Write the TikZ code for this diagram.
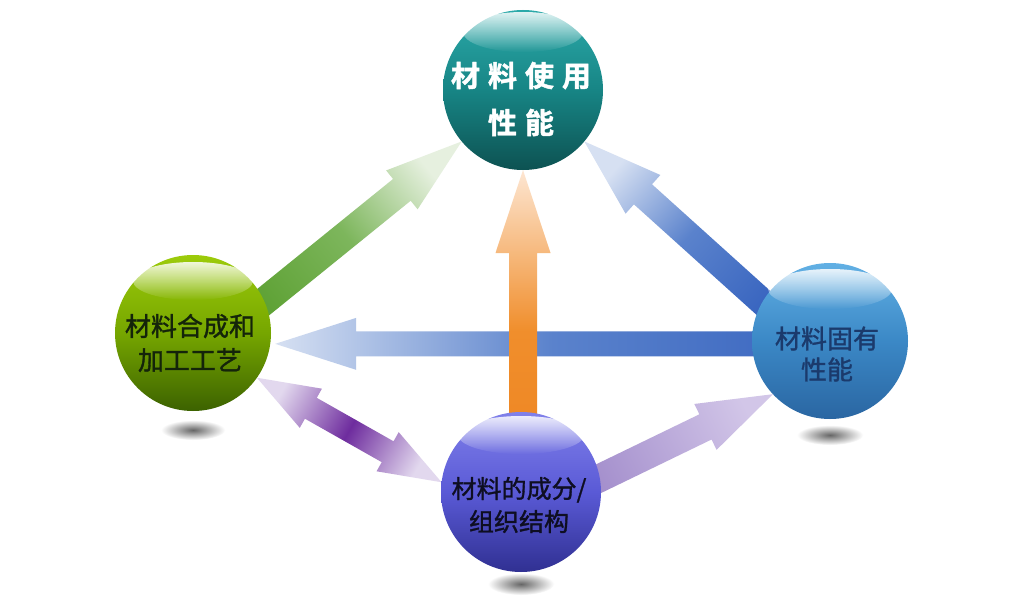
\documentclass[tikz,border=0pt]{standalone}
\usepackage{fontspec}
\newfontfamily\cjk{Noto Sans CJK SC}
\newfontfamily\cjkm[FakeBold=1.3]{Noto Sans CJK SC}
\newfontfamily\cjkh[FakeBold=1.5]{Noto Sans CJK SC Bold}
\usetikzlibrary{calc,fadings}
\definecolor{tealT}{HTML}{2BA9A9}
\definecolor{tealM}{HTML}{178585}
\definecolor{tealB}{HTML}{0D5252}
\definecolor{grnT}{HTML}{9CCB0A}
\definecolor{grnM}{HTML}{76A600}
\definecolor{grnB}{HTML}{3C6200}
\definecolor{bluT}{HTML}{62B0E4}
\definecolor{bluM}{HTML}{3B88C6}
\definecolor{bluB}{HTML}{2A66A2}
\definecolor{vioT}{HTML}{8080EA}
\definecolor{vioM}{HTML}{5A5AD6}
\definecolor{vioB}{HTML}{303092}
\definecolor{ltext}{HTML}{14240A}
\definecolor{rtext}{HTML}{1B3A6C}
\definecolor{btext}{HTML}{0E0E22}
\definecolor{agrnD}{HTML}{5FA236}
\definecolor{agrnM}{HTML}{7DB65C}
\definecolor{agrnL}{HTML}{E6F0DF}
\definecolor{abluD}{HTML}{3A66C0}
\definecolor{abluM}{HTML}{5A82CC}
\definecolor{abluL}{HTML}{D6E0F2}
\definecolor{aorD}{HTML}{EE8420}
\definecolor{aorM}{HTML}{F08E2C}
\definecolor{aorL}{HTML}{FDE6D2}
\definecolor{apurD}{HTML}{6E2C9E}
\definecolor{apurL}{HTML}{E2D8EE}
\definecolor{alavD}{HTML}{A08ACA}
\definecolor{alavL}{HTML}{D2C6E8}
\pgfdeclarelayer{bg}
\pgfsetlayers{bg,main}
% #1 base, #2 tip, #3 half shaft, #4 half head, #5 head length, #6 colours
\newcommand{\blockarr}[6]{%
  \coordinate (hb) at ($(#2)!#5!(#1)$);
  \pgfmathanglebetweenpoints{\pgfpointanchor{#1}{center}}{\pgfpointanchor{#2}{center}}%
  \pgfmathsetmacro\arrang{\pgfmathresult-90}%
  \path[#6, shading angle=\arrang] ($(#1)!#3!90:(#2)$) -- ($(hb)!#3!-90:(#1)$) -- ($(hb)!#4!-90:(#1)$) -- (#2) -- ($(hb)!#4!90:(#1)$) -- ($(hb)!#3!90:(#1)$) -- ($(#1)!#3!-90:(#2)$) -- cycle;
}
% double-headed: #1 tip a, #2 tip b, #3 half shaft, #4 half head, #5 head length, #6 colours
\newcommand{\dblockarr}[6]{%
  \coordinate (ha) at ($(#1)!#5!(#2)$);
  \coordinate (hb) at ($(#2)!#5!(#1)$);
  \pgfmathanglebetweenpoints{\pgfpointanchor{#1}{center}}{\pgfpointanchor{#2}{center}}%
  \pgfmathsetmacro\arrang{\pgfmathresult-90}%
  \path[#6, shading angle=\arrang] (#1) -- ($(ha)!#4!90:(#2)$) -- ($(ha)!#3!90:(#2)$) -- ($(hb)!#3!-90:(#1)$) -- ($(hb)!#4!-90:(#1)$) -- (#2) -- ($(hb)!#4!90:(#1)$) -- ($(hb)!#3!90:(#1)$) -- ($(ha)!#3!-90:(#2)$) -- ($(ha)!#4!-90:(#2)$) -- cycle;
}
\begin{document}
\begin{tikzpicture}[x=1pt,y=-1pt,
  orb/.style={circle, inner sep=0pt, outer sep=0pt, minimum size=#1},
  hilite/.style={fill=white, path fading=south, fill opacity=0.85},
  shadowst/.style={inner color=black!60, outer color=white},
  lbl/.style={align=center, inner sep=0pt}]
\useasboundingbox (0,0) rectangle (1021,602);
% spheres
\node[orb=160pt, top color=tealT, bottom color=tealB, middle color=tealM] (T) at (523,90) {};
\node[orb=156pt, top color=grnT, bottom color=grnB, middle color=grnM] (L) at (193,333) {};
\node[orb=156pt, top color=bluT, bottom color=bluB, middle color=bluM] (R) at (830,341) {};
\node[orb=160pt, top color=vioT, bottom color=vioB, middle color=vioM] (B) at (521,492) {};
% arrow end points
\coordinate (gT) at (T.220);
\coordinate (gB) at ($(T.220)!1.12!(L.24)$);
\coordinate (bT) at (T.320);
\coordinate (bB) at ($(T.320)!1.12!(R.150)$);
\coordinate (hT) at ([xshift=5pt]L.-8);
\coordinate (hB) at (R.center |- hT);
\coordinate (oT) at (T.south);
\coordinate (oB) at (T.south |- B.center);
\coordinate (pL) at (L.-35);
\coordinate (pR) at (B.173);
\coordinate (qT) at (R.223);
\coordinate (qB) at ($(R.223)!1.2!(B.10)$);
\begin{pgfonlayer}{bg}
  \fill[white] (0,0) rectangle (1021,602);
  \shade[shadowst] ($(L.south)+(0,19)$) ellipse (32 and 10);
  \shade[shadowst] ($(R.south)+(0,16)$) ellipse (33 and 10);
  \shade[shadowst] ($(B.south)+(0,12)$) ellipse (33 and 11);
  \blockarr{hB}{hT}{12.5pt}{26pt}{81pt}{top color=abluL, bottom color=abluD, middle color=abluM}
  \blockarr{gB}{gT}{14pt}{25pt}{77pt}{top color=agrnL, bottom color=agrnD, middle color=agrnM}
  \blockarr{bB}{bT}{13.5pt}{26pt}{79pt}{top color=abluL, bottom color=abluD, middle color=abluM}
  \dblockarr{pL}{pR}{12pt}{22.5pt}{62pt}{top color=apurL, bottom color=apurL, middle color=apurD}
  \blockarr{qB}{qT}{14pt}{25.5pt}{75pt}{top color=alavL, bottom color=alavD}
  \blockarr{oB}{oT}{14pt}{27.5pt}{83pt}{top color=aorL, bottom color=aorD, middle color=aorM}
\end{pgfonlayer}
% highlights
\path[hilite] ($(T.center)+(0,-58)$) ellipse (60 and 20);
\path[hilite] ($(L.center)+(0,-52)$) ellipse (60 and 19);
\path[hilite] ($(R.center)+(0,-52)$) ellipse (62 and 20);
\path[hilite] ($(B.center)+(0,-57)$) ellipse (63 and 19);
% labels
\node[lbl, text=white, font=\cjkh\fontsize{29}{47}\selectfont] (Tt) at (521,99) {材\hspace{8pt}料\hspace{8pt}使\hspace{8pt}用\\性\hspace{8pt}能};
\node[lbl, text=ltext, font=\cjkm\fontsize{26}{34}\selectfont] (Lt) at (190,343) {材料合成和\\加工工艺};
\node[lbl, text=rtext, font=\cjkm\fontsize{26}{31}\selectfont] (Rt) at (827,354) {材料固有\\性能};
\node[lbl, text=btext, font=\cjkm\fontsize{25}{33}\selectfont] (Bt) at (519,505) {材料的成分/\\组织结构};
\end{tikzpicture}
\end{document}
